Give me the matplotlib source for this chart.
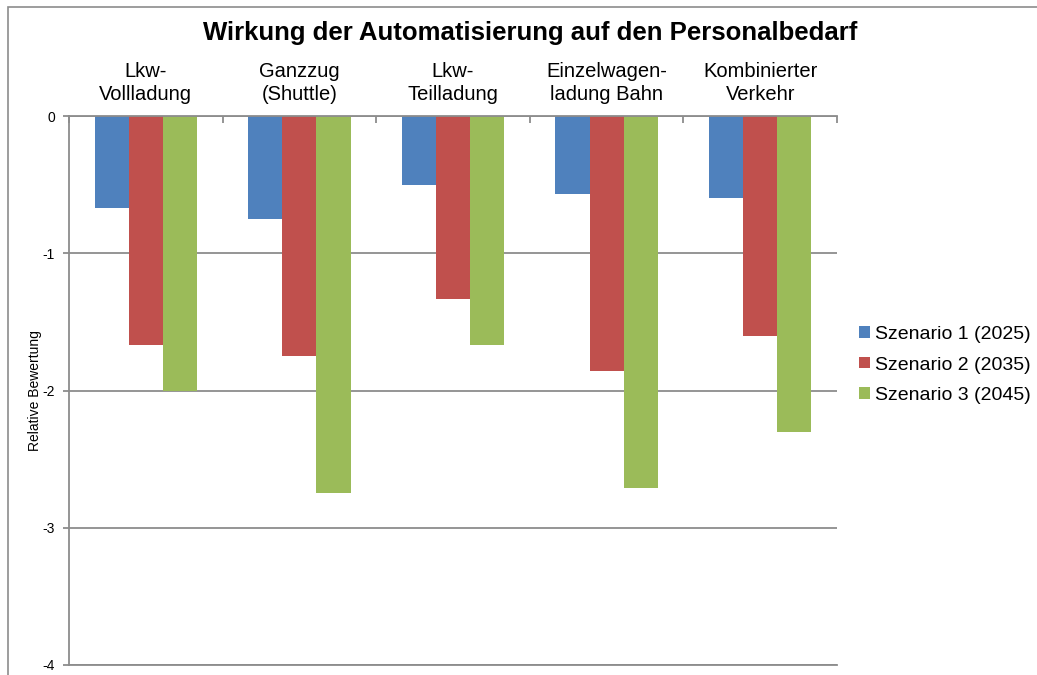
import matplotlib.pyplot as plt
import numpy as np
from matplotlib.patches import Rectangle

plt.rcParams["font.family"] = ["Liberation Sans", "DejaVu Sans"]

categories = ["Lkw-\nVollladung", "Ganzzug\n(Shuttle)", "Lkw-\nTeilladung",
              "Einzelwagen-\nladung Bahn", "Kombinierter\nVerkehr"]
series_names = ["Szenario 1 (2025)", "Szenario 2 (2035)", "Szenario 3 (2045)"]
szenario_1 = [-0.67, -0.75, -0.50, -0.57, -0.60]
szenario_2 = [-1.67, -1.75, -1.33, -1.86, -1.60]
szenario_3 = [-2.00, -2.75, -1.67, -2.71, -2.30]
colors = ["#4F81BD", "#C0504D", "#9BBB59"]
grid_color = "#8C8C8C"

W, H = 1037, 675
fig = plt.figure(figsize=(W / 100, H / 100), dpi=100)
ax = fig.add_axes([69 / W, 1 - 665 / H, (837 - 69) / W, (665 - 116) / H])

x = np.arange(len(categories))
bw = 1 / 4.5
for i, (vals, name) in enumerate(zip([szenario_1, szenario_2, szenario_3], series_names)):
    ax.bar(x + (i - 1) * bw, vals, width=bw, color=colors[i], label=name, zorder=3)

ax.set_xlim(-0.5, len(categories) - 0.5)
ax.set_ylim(-4, 0)
ax.set_yticks([0, -1, -2, -3, -4])
ax.set_yticklabels(["0", "-1", "-2", "-3", "-4"])
ax.yaxis.grid(True, color=grid_color, linewidth=1.3, zorder=0)

# Kategorien oben, Teilstriche an den Grenzen nach unten
ax.xaxis.tick_top()
ax.set_xticks(x)
ax.set_xticklabels(categories, fontsize=14.5, linespacing=1.25)
ax.set_xticks(np.arange(-0.5, len(categories)), minor=True)
ax.tick_params(axis="x", which="major", length=0, pad=9)
ax.tick_params(axis="x", which="minor", direction="in", length=5, color=grid_color, width=1.3)
ax.tick_params(axis="y", length=4, color=grid_color, width=1.3, labelsize=10, pad=6)

ax.spines["right"].set_visible(False)
for s in ["left", "top", "bottom"]:
    ax.spines[s].set_color(grid_color)
    ax.spines[s].set_linewidth(1.3)
ax.spines["top"].set_zorder(4)

ax.set_ylabel("Relative Bewertung", fontsize=10)
ax.yaxis.set_label_coords(-0.035, 0.5)

fig.text(0.511, 1 - 33 / H, "Wirkung der Automatisierung auf den Personalbedarf",
         ha="center", va="center", fontsize=18.5, fontweight="bold")

fig.legend(loc="center left", bbox_to_anchor=(859 / W, 1 - 365 / H), frameon=False,
           fontsize=14, handlelength=0.55, handleheight=0.55, handletextpad=0.25,
           labelspacing=0.7, borderpad=0, borderaxespad=0)

fig.patches.append(Rectangle((7.5 / W, -0.1), 1.2, (H - 7.5) / H + 0.1,
                             transform=fig.transFigure, fill=False,
                             edgecolor="#8C8C8C", linewidth=1.2))

fig.savefig("out.png", dpi=100)
